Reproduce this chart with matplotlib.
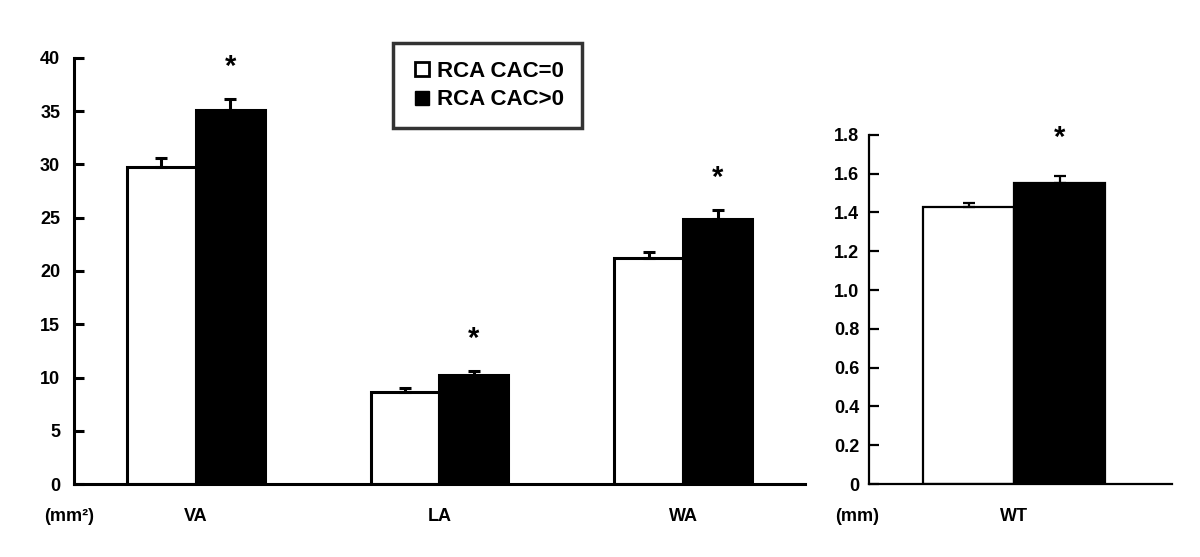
import numpy as np
import matplotlib.pyplot as plt
from matplotlib.lines import Line2D

plt.rcParams['font.family'] = ['Liberation Sans', 'DejaVu Sans']
plt.rcParams['font.weight'] = 'bold'

# 面積データ (mm2)
categories = ["VA", "LA", "WA"]
cac0 = [29.8, 8.6, 21.2]
cac0_err = [0.8, 0.45, 0.6]
cac1 = [35.1, 10.2, 24.9]
cac1_err = [1.05, 0.45, 0.8]

# 壁厚データ (mm)
wt_cat = ["WT"]
wt0 = [1.43]
wt0_err = [0.02]
wt1 = [1.55]
wt1_err = [0.04]

yticks_left = [0, 5, 10, 15, 20, 25, 30, 35, 40]
yticks_right = [0, 0.2, 0.4, 0.6, 0.8, 1.0, 1.2, 1.4, 1.6, 1.8]
yticklabels_right = ["0", "0.2", "0.4", "0.6", "0.8", "1.0", "1.2", "1.4", "1.6", "1.8"]

fig = plt.figure(figsize=(12, 5.57), dpi=100)
ax1 = fig.add_axes([0.0617, 0.131, 0.609, 0.765])
ax2 = fig.add_axes([0.724, 0.131, 0.2525, 0.627])


def draw(ax, cats, a, ae, b, be, w, lw, star_off, ypad):
    x = np.arange(len(cats))
    ax.bar(x - w / 2, a, w, color="white", edgecolor="black", linewidth=lw, zorder=2)
    ax.bar(x + w / 2, b, w, color="black", edgecolor="black", linewidth=lw, zorder=2)
    # 上側のみのエラーバー
    ax.errorbar(x - w / 2, a, yerr=[np.zeros(len(a)), ae], fmt="none", ecolor="black",
                elinewidth=lw, capsize=4.5, capthick=lw, zorder=3)
    ax.errorbar(x + w / 2, b, yerr=[np.zeros(len(b)), be], fmt="none", ecolor="black",
                elinewidth=lw, capsize=4.5, capthick=lw, zorder=3)
    for xi, v, e in zip(x + w / 2, b, be):
        ax.annotate("*", (xi, v + e), xytext=(0, star_off), textcoords="offset points",
                    ha="center", va="bottom", fontsize=21, fontweight="bold")
    ax.set_xticks(x)
    ax.set_xticklabels(cats, fontsize=13, fontweight="bold")
    ax.tick_params(axis="x", length=0, pad=17)
    ax.tick_params(axis="y", direction="in", length=7, width=lw, labelsize=13, pad=ypad)
    for s in ["top", "right"]:
        ax.spines[s].set_visible(False)
    for s in ["left", "bottom"]:
        ax.spines[s].set_linewidth(lw)


draw(ax1, categories, cac0, cac0_err, cac1, cac1_err, 0.283, 2.2, 13, 10)
ax1.set_xlim(-0.5, 2.5)
ax1.set_ylim(0, 40)
ax1.set_yticks(yticks_left)
ax1.set_yticklabels([str(t) for t in yticks_left])

draw(ax2, wt_cat, wt0, wt0_err, wt1, wt1_err, 0.3, 1.6, 17, 7)
ax2.set_xlim(-0.48, 0.52)
ax2.set_ylim(0, 1.8)
ax2.set_yticks(yticks_right)
ax2.set_yticklabels(yticklabels_right)

fig.text(0.058, 0.073, "(mm²)", ha="center", va="center", fontsize=13, fontweight="bold")
fig.text(0.714, 0.073, "(mm)", ha="center", va="center", fontsize=13, fontweight="bold")

handles = [Line2D([], [], marker="s", ls="none", markersize=10, markerfacecolor="white",
                  markeredgecolor="black", markeredgewidth=2),
           Line2D([], [], marker="s", ls="none", markersize=10, markerfacecolor="black",
                  markeredgecolor="black")]
leg = fig.legend(handles, ["RCA CAC=0", "RCA CAC>0"], loc="upper left",
                 bbox_to_anchor=(0.3275, 0.923), frameon=True, fancybox=False,
                 prop={"size": 16, "weight": "bold"}, handletextpad=0.2,
                 handlelength=1.0, borderpad=0.8, labelspacing=0.35, borderaxespad=0)
leg.get_frame().set_edgecolor("black")
leg.get_frame().set_linewidth(2.5)

plt.savefig("out.png", dpi=100)
